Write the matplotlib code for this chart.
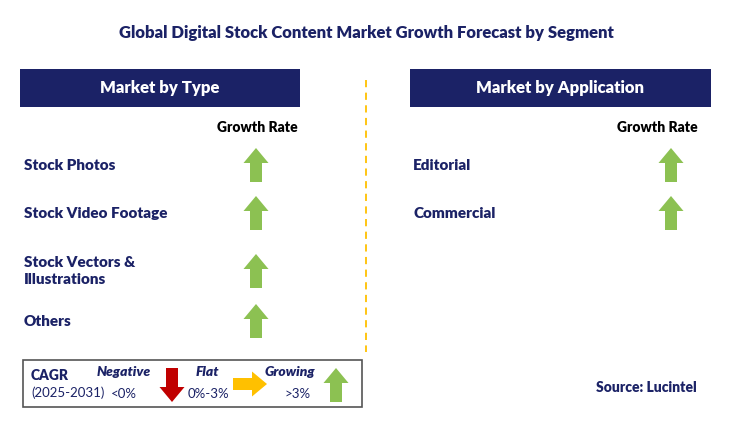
import matplotlib
matplotlib.use('Agg')
import matplotlib.pyplot as plt
from matplotlib.patches import Rectangle, FancyArrow

plt.rcParams['font.family'] = 'Lato'

TITLE = 'Global Digital Stock Content Market Growth Forecast by Segment'
TYPE_LABELS = ['Stock Photos', 'Stock Video Footage', 'Stock Vectors &\nIllustrations', 'Others']
TYPE_TREND = ['up', 'up', 'up', 'up']
APP_LABELS = ['Editorial', 'Commercial']
APP_TREND = ['up', 'up']

NAVY = '#1b2266'
GREEN = '#8cc152'
RED = '#c00000'
ORANGE = '#ffc000'

fig = plt.figure(figsize=(7.32, 4.23), dpi=100)
ax = fig.add_axes([0, 0, 1, 1])
ax.set_xlim(0, 732)
ax.set_ylim(423, 0)
ax.axis('off')


def up_arrow(x, ytop, h=34, color=GREEN):
    ax.add_patch(FancyArrow(x, ytop + h, 0, -h, width=12, head_width=25,
                            head_length=15, length_includes_head=True,
                            color=color, lw=0))


def down_arrow(x, ytop, h=34, color=RED):
    ax.add_patch(FancyArrow(x, ytop, 0, h, width=12, head_width=25,
                            head_length=15, length_includes_head=True,
                            color=color, lw=0))


ax.text(366, 33, TITLE, ha='center', va='center', fontsize=12,
        fontweight='heavy', color=NAVY)

# section headers
for x0, x1, label in [(20, 300, 'Market by Type'), (410, 711, 'Market by Application')]:
    ax.add_patch(Rectangle((x0, 69), x1 - x0, 38, color=NAVY, lw=0))
    ax.text((x0 + x1) / 2, 88, label, ha='center', va='center', fontsize=12,
            fontweight='heavy', color='white')

ax.plot([366, 366], [80, 352], ls=(0, (4, 3)), color=ORANGE, lw=1.3)

ax.text(257, 127, 'Growth Rate', ha='center', va='center', fontsize=10,
        fontweight='heavy', color='black')
ax.text(657, 127, 'Growth Rate', ha='center', va='center', fontsize=10,
        fontweight='heavy', color='black')

type_y = [165, 213, 271, 321]
for lab, tr, y in zip(TYPE_LABELS, TYPE_TREND, type_y):
    ax.text(24, y, lab, ha='left', va='center', fontsize=11,
            fontweight='heavy', color=NAVY, linespacing=1.4)
    if tr == 'up':
        up_arrow(256, y - 17)

app_y = [165, 213]
for lab, tr, y in zip(APP_LABELS, APP_TREND, app_y):
    ax.text(413, y, lab, ha='left', va='center', fontsize=11,
            fontweight='heavy', color=NAVY)
    if tr == 'up':
        up_arrow(671, y - 17)

# legend box
ax.add_patch(Rectangle((23, 360), 339, 47, fill=False, ec='#555555', lw=1.2))
ax.text(31, 375, 'CAGR', fontsize=10, fontweight='heavy', color=NAVY, va='center')
ax.text(31, 393, '(2025-2031)', fontsize=9.5, color=NAVY, va='center')
ax.text(124, 372, 'Negative', fontsize=10, fontweight='heavy', style='italic',
        color=NAVY, ha='center', va='center')
ax.text(124, 394, '<0%', fontsize=9.5, color=NAVY, ha='center', va='center')
down_arrow(172, 368, h=34)
ax.text(207, 372, 'Flat', fontsize=10, fontweight='heavy', style='italic',
        color=NAVY, ha='center', va='center')
ax.text(208, 394, '0%-3%', fontsize=9.5, color=NAVY, ha='center', va='center')
ax.add_patch(FancyArrow(233, 384, 34, 0, width=12, head_width=25, head_length=15,
                        length_includes_head=True, color=ORANGE, lw=0))
ax.text(290, 372, 'Growing', fontsize=10, fontweight='heavy', style='italic',
        color=NAVY, ha='center', va='center')
ax.text(298, 394, '>3%', fontsize=9.5, color=NAVY, ha='center', va='center')
up_arrow(336, 368, h=34)

ax.text(697, 387, 'Source: Lucintel', ha='right', va='center', fontsize=10,
        fontweight='heavy', color=NAVY)

fig.savefig('out.png', dpi=100, facecolor='white')
